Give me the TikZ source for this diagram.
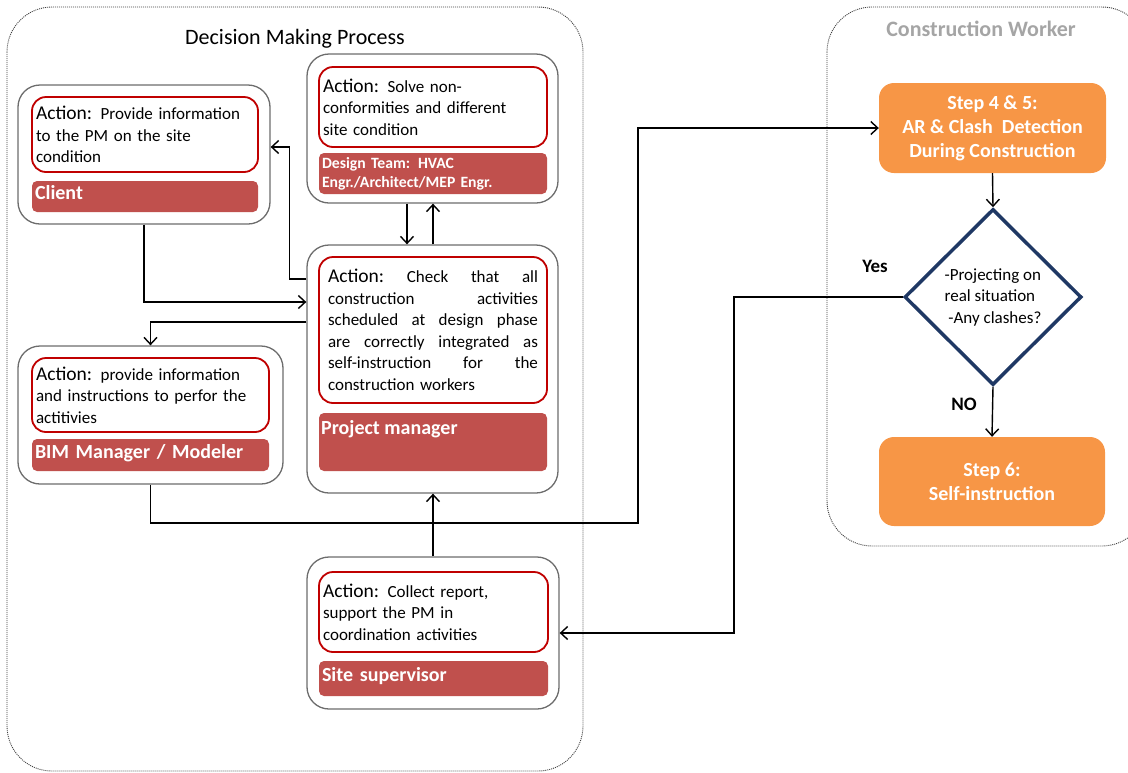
\documentclass[tikz,border=0pt]{standalone}
\usepackage{fontspec}
\setmainfont{Carlito}
\usetikzlibrary{arrows.meta,shapes.geometric,calc}
\definecolor{lblred}{HTML}{C0504D}
\definecolor{actred}{HTML}{C00000}
\definecolor{stepor}{HTML}{F79646}
\definecolor{navyb}{HTML}{1F3864}
\definecolor{boxgray}{HTML}{6D6D6D}
\definecolor{titlegray}{HTML}{A5A5A5}
\newcommand\bodyfs{\fontsize{17}{21.5}\selectfont}
\newcommand\actw{{\fontsize{19.5}{21.5}\selectfont Action:}}
\newcommand\jline[1]{\makebox[210pt][l]{#1}}
\tikzset{
  grpbox/.style={draw=black!75, dash pattern=on 1pt off 1pt, line width=0.9pt, rounded corners=45pt},
  rolebox/.style={draw=boxgray, line width=1.3pt, rounded corners=22pt, fill=white, inner sep=0pt},
  actbox/.style={draw=actred, line width=1.8pt, rounded corners=14pt, inner xsep=4pt, inner ysep=2pt, align=left, font=\bodyfs},
  lblbar/.style={fill=lblred, rounded corners=5pt, text=white, inner xsep=3pt, inner ysep=0pt, align=left, font=\bfseries\fontsize{20}{24}\selectfont},
  lbl1/.style={lblbar, text height=14pt, text depth=8pt},
  lbltxt/.style={text=white, inner sep=0pt, font=\bfseries\fontsize{20}{24}\selectfont},
  stepbox/.style={fill=stepor, rounded corners=15pt, text=white, align=center, font=\bfseries\fontsize{20}{24}\selectfont},
  decis/.style={diamond, draw=navyb, line width=3.5pt, inner sep=0pt, align=left, font=\bodyfs},
  yn/.style={font=\bfseries\fontsize{19}{22}\selectfont, inner sep=0pt},
  conn/.style={line width=1.4pt, -{Straight Barb[length=7pt,width=13pt]}},
}
\begin{document}
\begin{tikzpicture}[x=1pt, y=-1pt]
\useasboundingbox (0,0) rectangle (1128,772);
\clip (0,0) rectangle (1128,772);

% group frames
\draw[grpbox] (7,7) rectangle (583,771);
\node[anchor=base, inner sep=0pt, font=\fontsize{22}{26}\selectfont] (dmpT) at (295,44) {Decision Making Process};
\draw[grpbox] (827,7) rectangle (1147,546);
\node[anchor=base, inner sep=0pt, text=titlegray, font=\bfseries\fontsize{22}{26}\selectfont] (cwT) at (981,36) {Construction Worker};

% Client
\node[rolebox, minimum width=252, minimum height=139] (client) at (144,154.5) {};
\node[actbox, minimum width=226, minimum height=75, text width=218] (clientA) at (145,134.5)
  {\actw{} Provide information\\to the PM on the site\\condition};
\node[lbl1, minimum width=226, minimum height=31, text width=220] (clientL) at (145,196.5) {Client};

% Design team
\node[rolebox, minimum width=251, minimum height=149] (dt) at (432.5,128.5) {};
\node[actbox, minimum width=228, minimum height=80, text width=220] (dtA) at (433,107)
  {\actw{} Solve non-\\conformities and different\\site condition};
\node[lblbar, minimum width=228, minimum height=41, text width=222, font=\bfseries\fontsize{15.7}{19}\selectfont] (dtL) at (433,173.5)
  {Design Team: HVAC\\Engr./Architect/MEP Engr.};

% Project manager
\node[rolebox, minimum width=251, minimum height=248] (pm) at (432.5,369) {};
\node[actbox, minimum width=228, minimum height=146, text width=210, inner xsep=9pt] (pmA) at (433,330)
  {\jline{\actw{}\hfill Check\hfill that\hfill all}\\
   \jline{construction\hfill activities}\\
   \jline{scheduled\hfill at\hfill design\hfill phase}\\
   \jline{are\hfill correctly\hfill integrated\hfill as}\\
   \jline{self-instruction\hfill for\hfill the}\\
   construction workers};
\node[lblbar, minimum width=228, minimum height=58] (pmL) at (433,442) {};
\node[lbltxt, anchor=base west] (pmLt) at (321,434) {Project manager};

% BIM manager
\node[rolebox, minimum width=265, minimum height=138] (bim) at (150.5,415) {};
\node[actbox, minimum width=237, minimum height=74, text width=229] (bimA) at (150.5,395)
  {\actw{} provide information\\and instructions to perfor the\\actitivies};
\node[lbl1, minimum width=237, minimum height=32, text width=231] (bimL) at (150.5,455) {BIM Manager / Modeler};

% Site supervisor
\node[rolebox, minimum width=252, minimum height=152] (ss) at (433,633) {};
\node[actbox, minimum width=229, minimum height=80, text width=221] (ssA) at (433.5,612)
  {\actw{} Collect report,\\support the PM in\\coordination activities};
\node[lbl1, minimum width=229, minimum height=35, text width=223] (ssL) at (433.5,678.5) {Site supervisor};

% Construction worker flow
\node[stepbox, minimum width=227, minimum height=90] (s45) at (992.5,128)
  {Step 4 \& 5:\\AR \& Clash\ \ Detection\\During Construction};
\node[decis, minimum width=177, minimum height=176] (dec) at (993,297)
  {-Projecting on\\real situation\\\ -Any clashes?};
\node[stepbox, minimum width=226, minimum height=89] (s6) at (992,481.5)
  {Step 6:\\Self-instruction};
\node[yn] (yes) at (875,266) {Yes};
\node[yn] (no) at (964,404) {NO};

% connectors
\coordinate (yturn) at (734,297);
\coordinate (bturn) at (638,523);
\draw[conn] (s45.south) -- (dec.north);
\draw[conn] (dec.south) -- (s6.north);
\draw[conn] (dec.west) -- (yturn) |- (ss.east);
\draw[conn] (bim.south) |- (bturn) |- (s45.west);
\draw[conn] (ss.north) -- (ss.north |- pm.south);
\draw[conn] (client.south) |- ($(pm.west)+(0,-67)$);
\draw[conn] ($(pm.west)+(0,-47)$) -| (bim.north);
\draw[conn] ($(pm.west)+(0,-90)$) -| ($(client.east)+(19,-7.5)$) -- ($(client.east)+(0,-7.5)$);
\draw[conn] ($(dt.south)+(-25.5,0)$) -- ($(pm.north)+(-25.5,0)$);
\draw[conn] ($(pm.north)+(0.5,0)$) -- ($(dt.south)+(0.5,0)$);
\end{tikzpicture}
\end{document}
